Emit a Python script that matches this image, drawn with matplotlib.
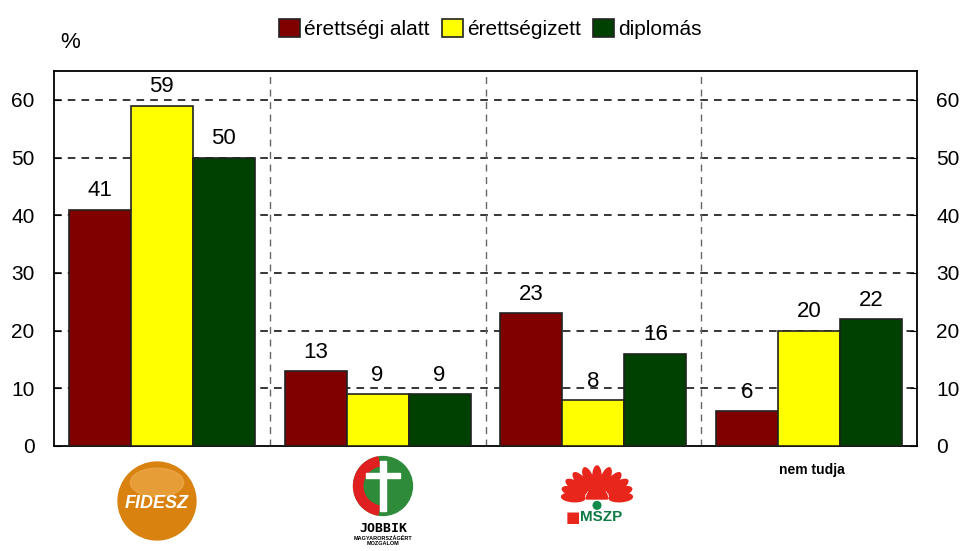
import numpy as np
import matplotlib.pyplot as plt
from matplotlib.patches import Circle, Ellipse, Wedge, Rectangle

plt.rcParams['font.family'] = ['Liberation Sans Narrow', 'Liberation Sans', 'DejaVu Sans']

# adatok
csoportok = ['FIDESZ', 'JOBBIK', 'MSZP', 'nem tudja']
erettsegi_alatt = [41, 13, 23, 6]
erettsegizett = [59, 9, 8, 20]
diplomas = [50, 9, 16, 22]
sorozatok = ['érettségi alatt', 'érettségizett', 'diplomás']
szinek = ['#800000', '#FFFF00', '#004000']

fig = plt.figure(figsize=(9.71, 5.51), dpi=100)
ax = fig.add_axes([0.0556, 0.1906, 0.8888, 0.6804])

x = np.arange(len(csoportok))
w = 0.287
for i, (vals, nev, szin) in enumerate(zip([erettsegi_alatt, erettsegizett, diplomas], sorozatok, szinek)):
    bars = ax.bar(x + (i - 1) * w, vals, w, color=szin, edgecolor='#222222', linewidth=1.2,
                  label=nev, zorder=3)
    for b, v in zip(bars, vals):
        ax.annotate(str(v), (b.get_x() + b.get_width() / 2, v), xytext=(0, 6),
                    textcoords='offset points', ha='center', va='bottom', fontsize=16, zorder=4)

ax.set_xlim(-0.5, 3.5)
ax.set_ylim(0, 65)
ax.set_yticks(range(0, 61, 10))
ax.set_xticks([])
ax.tick_params(axis='y', direction='in', labelsize=15, left=True, right=True,
               labelleft=True, labelright=True, length=5, pad=14)
for yv in range(10, 61, 10):
    ax.axhline(yv, color='black', linestyle=(0, (5, 4)), linewidth=1.1, zorder=1)
for xv in [0.5, 1.5, 2.5]:
    ax.axvline(xv, color='#666666', linestyle=(0, (5, 4)), linewidth=1.0, zorder=1)
for s in ax.spines.values():
    s.set_linewidth(1.3)

fig.text(0.062, 0.912, '%', fontsize=16)
fig.legend(loc='upper center', bbox_to_anchor=(0.505, 1.0), ncol=3, frameon=False,
           fontsize=15, handlelength=1.0, handleheight=1.0, handletextpad=0.2,
           columnspacing=0.6)

# "logok" a kategóriák alatt
def logo_ax(cx, cy, size):
    a = fig.add_axes([cx - size / 2 / 9.71, cy - size / 2 / 5.51, size / 9.71, size / 5.51])
    a.set_xlim(-1, 1)
    a.set_ylim(-1, 1)
    a.axis('off')
    return a

# FIDESZ
a = logo_ax(157 / 971, 1 - 501 / 551, 0.82)
a.add_patch(Circle((0, 0), 0.95, color='#D9820F'))
a.add_patch(Ellipse((0, 0.45), 1.3, 0.7, color='#F0B055', alpha=0.6))
a.text(0, -0.05, 'FIDESZ', color='white', fontsize=13, fontweight='bold', style='italic',
       ha='center', va='center', family=['Liberation Sans', 'DejaVu Sans'])

# JOBBIK
a = logo_ax(383 / 971, 1 - 486 / 551, 0.62)
a.add_patch(Circle((0, 0), 0.95, color='#2E8B3A'))
a.add_patch(Wedge((0, 0), 0.95, 100, 260, width=0.3, color='#E02020'))
a.add_patch(Rectangle((-0.1, -0.8), 0.2, 1.6, color='white'))
a.add_patch(Rectangle((-0.55, 0.25), 1.1, 0.18, color='white'))
fig.text(383 / 971, 1 - 529 / 551, 'JOBBIK', fontsize=9.5, fontweight='bold', ha='center',
         va='center', family=['DejaVu Sans Mono', 'DejaVu Sans'])
fig.text(383 / 971, 1 - 541 / 551, 'MAGYARORSZÁGÉRT\nMOZGALOM', fontsize=4, fontweight='bold',
         ha='center', va='center', linespacing=1.1)

# MSZP
a = logo_ax(597 / 971, 1 - 482 / 551, 0.85)
kozep = (0, -0.4)
for ang in np.linspace(5, 175, 11):
    r = np.radians(ang)
    hossz = 0.55 + 0.12 * np.sin(r)
    a.add_patch(Ellipse((kozep[0] + hossz * np.cos(r), kozep[1] + hossz * 0.75 * np.sin(r)),
                        0.55, 0.2, angle=np.degrees(np.arctan2(0.75 * np.sin(r), np.cos(r))),
                        color='#E8261C'))
a.add_patch(Wedge(kozep, 0.25, 0, 180, color='#E8261C'))
a.add_patch(Circle((0, -0.55), 0.09, color='#0F8A4A'))
fig.text(580 / 971, 1 - 517 / 551, '■', fontsize=11, ha='right', va='center', color='#E8261C',
         family=['DejaVu Sans'])
fig.text(580 / 971, 1 - 517 / 551, 'MSZP', fontsize=11, fontweight='bold', ha='left',
         va='center', color='#0F7A44', family=['Liberation Sans', 'DejaVu Sans'])

fig.text(812 / 971, 1 - 470 / 551, 'nem tudja', fontsize=10, fontweight='bold', ha='center',
         va='center', family=['Liberation Sans', 'DejaVu Sans'])

fig.savefig('out.png', dpi=100)
